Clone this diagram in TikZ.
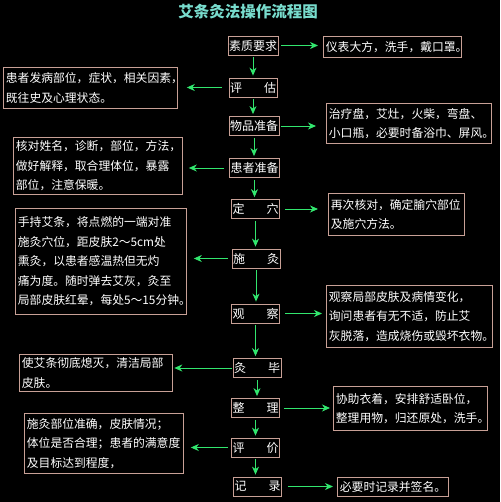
\documentclass[tikz,border=0pt]{standalone}
\usepackage{fontspec}
\newfontfamily\cjk{Noto Sans CJK SC}
\usetikzlibrary{arrows.meta}
\definecolor{bcol}{RGB}{200,160,150}
\definecolor{acol}{RGB}{50,230,110}
\definecolor{tcol}{RGB}{120,220,205}
\newcommand{\twoch}[2]{\hbox to 46pt{#1\hfill#2}}
\tikzset{
  sbox/.style={draw=bcol, line width=0.8pt, inner xsep=2.5pt, inner ysep=0pt, anchor=north west, align=left, text=white, font=\cjk\fontsize{11.8}{19.5}\selectfont},
  cbox/.style={draw=bcol, line width=0.8pt, minimum width=48pt, minimum height=19pt, inner xsep=1pt, inner ysep=0pt, text=white, font=\cjk\fontsize{12}{14}\selectfont},
  arr/.style={draw=acol, line width=0.9pt, -{Stealth[length=8pt,width=7pt,inset=2.5pt]}}
}
\begin{document}
\begin{tikzpicture}[x=1pt,y=-1pt]
\fill[black] (0,0) rectangle (500,502);
\useasboundingbox (0,0) rectangle (500,502);
% title
\node[text=tcol, font=\cjk\bfseries\fontsize{15.5}{17}\selectfont] (title) at (248,11.5) {艾条灸法操作流程图};
% centre column
\node[cbox] (c1) at (253,45.5) {素质要求};
\node[cbox] (c2) at (253,87.5) {\twoch{评}{估}};
\node[cbox] (c3) at (254,126) {物品准备};
\node[cbox] (c4) at (254.5,168) {患者准备};
\node[cbox] (c5) at (255.5,209) {\twoch{定}{穴}};
\node[cbox] (c6) at (256,258.5) {\twoch{施}{灸}};
\node[cbox] (c7) at (255.5,313.5) {\twoch{观}{察}};
\node[cbox] (c8) at (257,368) {\twoch{灸}{毕}};
\node[cbox] (c9) at (255.5,408) {\twoch{整}{理}};
\node[cbox] (c10) at (255.5,447.5) {\twoch{评}{价}};
\node[cbox] (c11) at (257.5,486.5) {\twoch{记}{录}};
% right boxes
\node[sbox, text width=133pt, minimum height=21pt] (r1) at (323,36) {仪表大方，洗手，戴口罩。};
\node[sbox, text width=160pt, minimum height=40pt] (r3) at (326,103) {治疗盘，艾灶，火柴，弯盘、\\小口瓶，必要时备浴巾、屏风。};
\node[sbox, text width=131pt, minimum height=42pt] (r5) at (328,193) {再次核对，确定腧穴部位\\及施穴方法。};
\node[sbox, text width=161pt, minimum height=62pt] (r7) at (326,285) {观察局部皮肤及病情变化，\\询问患者有无不适，防止艾\\灰脱落，造成烧伤或毁坏衣物。};
\node[sbox, text width=149pt, minimum height=44pt] (r9) at (333,386) {协助衣着，安排舒适卧位，\\整理用物，归还原处，洗手。};
\node[sbox, text width=106pt, minimum height=19pt] (r11) at (337,477) {必要时记录并签名。};
% left boxes
\node[sbox, text width=169pt, minimum height=41pt] (l2) at (3,67) {患者发病部位，症状，相关因素，\\既往史及心理状态。};
\node[sbox, text width=164pt, minimum height=57pt] (l4) at (13,137) {核对姓名，诊断，部位，方法，\\做好解释，取合理体位，暴露\\部位，注意保暖。};
\node[sbox, text width=166pt, minimum height=106pt] (l6) at (15,208) {手持艾条，将点燃的一端对准\\施灸穴位，距皮肤2～5cm处\\熏灸，以患者感温热但无灼\\痛为度。随时弹去艾灰，灸至\\局部皮肤红晕，每处5～15分钟。};
\node[sbox, text width=148pt, minimum height=37pt] (l8) at (19,354) {使艾条彻底熄灭，清洁局部\\皮肤。};
\node[sbox, text width=154pt, minimum height=60pt] (l10) at (24,413) {施灸部位准确，皮肤情况；\\体位是否合理；患者的满意度\\及目标达到程度，};
% vertical arrows
\foreach \a/\b in {c1/c2,c2/c3,c3/c4,c4/c5,c5/c6,c6/c7,c7/c8,c8/c9,c9/c10,c10/c11}
  \draw[arr, shorten <=2pt, shorten >=2pt] (\a.south) -- (\a.south |- \b.north);
% right arrows
\draw[arr, shorten <=3pt, shorten >=5pt] (c1.east) -- (c1.east -| r1.west);
\draw[arr, shorten <=2pt, shorten >=10pt] (c3.east) -- (c3.east -| r3.west);
\draw[arr, shorten <=5pt, shorten >=10pt] (c5.east) -- (c5.east -| r5.west);
\draw[arr, shorten <=5pt, shorten >=4pt] (c7.east) -- (c7.east -| r7.west);
\draw[arr, shorten <=4pt, shorten >=3pt] (c9.east) -- (c9.east -| r9.west);
\draw[arr, shorten <=6pt, shorten >=4pt] (c11.east) -- (c11.east -| r11.west);
% left arrows
\draw[arr, shorten <=7pt, shorten >=9pt] (c2.west) -- (c2.west -| l2.east);
\draw[arr, shorten <=5pt, shorten >=6pt] (c4.west) -- (c4.west -| l4.east);
\draw[arr, shorten <=4pt, shorten >=7pt] (c6.west) -- (c6.west -| l6.east);
\draw[arr, shorten <=1pt, shorten >=1.5pt] (c8.west) -- (c8.west -| l8.east);
\draw[arr, shorten <=3pt, shorten >=7pt] (c10.west) -- (c10.west -| l10.east);
\end{tikzpicture}
\end{document}
